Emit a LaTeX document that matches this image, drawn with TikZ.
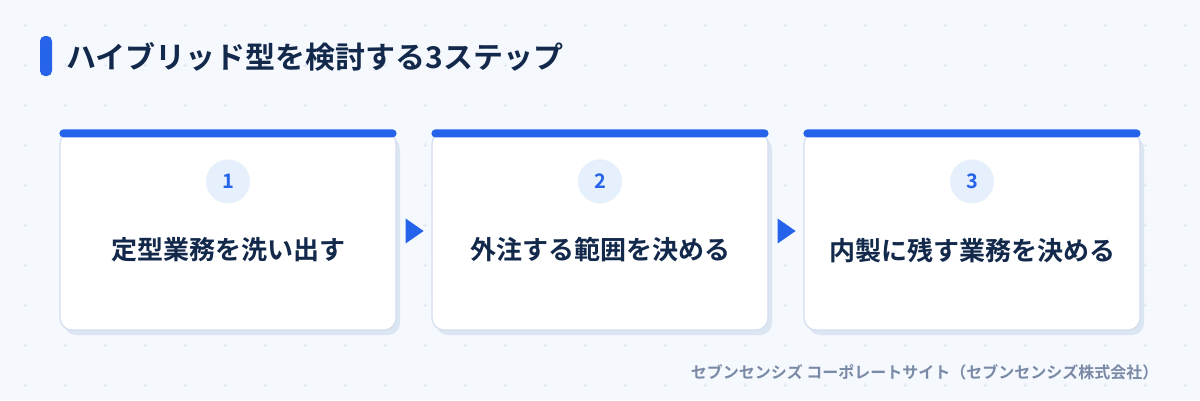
\documentclass[tikz,border=0pt]{standalone}
\usepackage{fontspec}
\setmainfont{Noto Sans CJK JP}[BoldFont={Noto Sans CJK JP Bold}]
\usetikzlibrary{calc,shadows}
\definecolor{bg}{HTML}{F5F8FD}
\definecolor{ink}{HTML}{13294B}
\definecolor{accent}{HTML}{2563EB}
\definecolor{edge}{HTML}{D3DEEE}
\definecolor{shade}{HTML}{DCE5F2}
\definecolor{pale}{HTML}{E6EFFC}
\definecolor{muted}{HTML}{7A8AA6}
\definecolor{dotc}{HTML}{E1E8F2}
\begin{document}
\begin{tikzpicture}[x=1pt,y=-1pt,
  card/.style={draw=edge,line width=1.2pt,fill=white,rounded corners=12pt,
    minimum width=336pt,minimum height=198pt,inner sep=0pt,
    drop shadow={shadow xshift=4pt,shadow yshift=-5pt,fill=shade,opacity=1}},
  numdisc/.style={circle,fill=pale,minimum size=44pt,inner sep=0pt,text=accent,
    font=\bfseries\fontsize{20}{24}\selectfont},
  steptext/.style={text=ink,font=\bfseries\fontsize{26}{30}\selectfont}]
\fill[bg] (0,0) rectangle (1200,400);
\foreach \i in {0,...,29} \foreach \j in {0,...,9}
  \draw[dotc,line width=0.8pt] (23+40*\i,25+40*\j) -- +(4,0) (25+40*\i,23+40*\j) -- +(0,4);
% title
\fill[accent,rounded corners=5pt] (40,36) rectangle (52,76);
\node[anchor=west,text=ink,font=\bfseries\fontsize{30}{34}\selectfont] (title) at (63,57) {ハイブリッド型を検討する3ステップ};
% cards
\foreach \i/\x/\txt in {1/228/定型業務を洗い出す,2/600/外注する範囲を決める,3/972/内製に残す業務を決める}{
  \node[card] (card\i) at (\x,231) {};
  \fill[accent,rounded corners=4pt] ($(card\i.north west)+(0,-2)$) rectangle ($(card\i.north east)+(0,6)$);
  \node[numdisc] (num\i) at ($(card\i.north)+(0,50)$) {\i};
  \node[steptext] (lbl\i) at ($(card\i.center)+(0,19)$) {\txt};
}
% arrows
\foreach \i in {1,2}
  \fill[accent] ($(card\i.east)+(9,-12.5)$) -- ++(18,12.5) -- ++(-18,12.5) -- cycle;
\node[anchor=east,text=muted,font=\bfseries\fontsize{16}{19}\selectfont] (src) at (1162,372) {セブンセンシズ コーポレートサイト（セブンセンシズ株式会社）};
\end{tikzpicture}
\end{document}
